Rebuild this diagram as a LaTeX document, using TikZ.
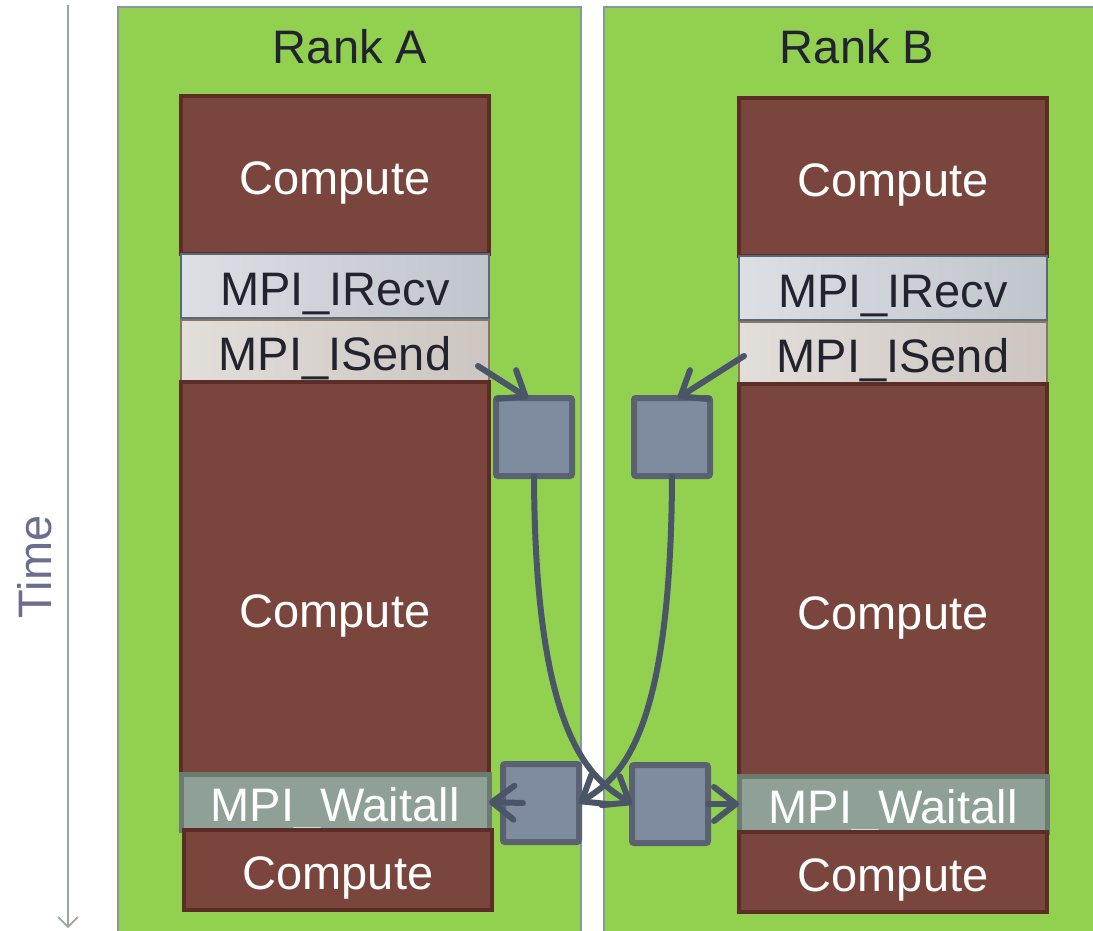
\documentclass[tikz,border=0pt]{standalone}
\usepackage{fontspec}
\setmainfont{Liberation Sans}
\usepackage{xcolor}
\definecolor{rank-green}{HTML}{92D050}
\definecolor{rank-edge}{HTML}{8895A8}
\definecolor{compute-brown}{HTML}{7A453C}
\definecolor{compute-edge}{HTML}{5C2C27}
\definecolor{recv-light}{HTML}{DCDFE4}
\definecolor{recv-dark}{HTML}{C0C5CC}
\definecolor{recv-edge}{HTML}{56687A}
\definecolor{send-light}{HTML}{E2DEDA}
\definecolor{send-dark}{HTML}{CCC5C0}
\definecolor{send-edge}{HTML}{8A7464}
\definecolor{wait-grey}{HTML}{8FA196}
\definecolor{wait-edge}{HTML}{6B7B70}
\definecolor{buf-fill}{HTML}{7F8C9F}
\definecolor{buf-edge}{HTML}{5A6272}
\definecolor{msg-dark}{HTML}{4A5568}
\definecolor{text-dark}{HTML}{23232F}
\definecolor{time-line}{HTML}{9AA8A0}
\definecolor{time-text}{HTML}{6B6E8C}
\usepackage{tikz}
\usetikzlibrary{positioning}
\usetikzlibrary{arrows.meta}
\tikzset{panel/.style = {draw=rank-edge, line width=1pt, fill=rank-green, minimum height=469pt, outer sep=0pt}}
\tikzset{title/.style = {text=text-dark, inner sep=0pt}}
\tikzset{block/.style = {minimum width=154pt, inner sep=0pt, outer sep=0pt, text height=19.8pt, text depth=0pt}}
\tikzset{compute/.style = {block, draw=compute-edge, line width=2pt, fill=compute-brown, text=white}}
\tikzset{irecv/.style = {block, draw=recv-edge, line width=1pt, left color=recv-light, right color=recv-dark, text=text-dark, minimum height=32pt}}
\tikzset{isend/.style = {block, draw=send-edge, line width=1pt, left color=send-light, right color=send-dark, text=text-dark, minimum height=31pt}}
\tikzset{waitall/.style = {block, draw=wait-edge, line width=2.5pt, fill=wait-grey, text=white, minimum height=28pt}}
\tikzset{buffer/.style = {draw=buf-edge, line width=3pt, fill=buf-fill, minimum width=38pt, minimum height=39pt, rounded corners=1pt, outer sep=0pt}}
\tikzset{msg/.style = {draw=msg-dark, line width=3pt, line cap=round, -{Straight Barb[round, length=11pt, width=17pt]}}}
\tikzset{timeline/.style = {draw=time-line, line width=0.8pt, -{Straight Barb[length=5pt, width=10pt]}}}

\begin{document}
\begin{tikzpicture}[x=0.5pt, y=-0.5pt,
  node distance = 0pt,
  font=\fontsize{23.5}{28}\selectfont
]
\useasboundingbox (0,0) rectangle (1093,931);

% the two ranks
\node[panel, minimum width=231.5pt] (pA) at (349.5,476) {};
\node[panel, minimum width=248pt] (pB) at (852,476) {};
\node[title] (tA) at (350,47) {Rank A};
\node[title] (tB) at (857,47) {Rank B};

% time axis
\coordinate (t0) at (68,5);
\coordinate (t1) at (68,928);
\draw[timeline] (t0) -- (t1);
\node[text=time-text, rotate=90] (tl) at (35,567) {Time};

% rank A
\node[compute, minimum height=79pt] (cA1) at (335,175) {Compute};
\node[irecv, below=of cA1] (rA) {MPI\_IRecv};
\node[isend, below=1pt of rA] (sA) {MPI\_ISend};
\node[compute, minimum height=196pt, text height=49.8pt, below=of sA] (cA2) {Compute};
\node[waitall, below=of cA2] (wA) {MPI\_Waitall};
\node[compute, minimum height=40pt, below=of wA, xshift=1.5pt] (cA3) {Compute};

% rank B
\node[compute, minimum height=79pt] (cB1) at (893,177) {Compute};
\node[irecv, below=of cB1] (rB) {MPI\_IRecv};
\node[isend, below=1pt of rB] (sB) {MPI\_ISend};
\node[compute, minimum height=196pt, text height=49.8pt, below=of sB] (cB2) {Compute};
\node[waitall, below=of cB2] (wB) {MPI\_Waitall};
\node[compute, minimum height=40pt, below=of wB] (cB3) {Compute};

% message buffers
\node[buffer] (bA1) at (534,437) {};
\node[buffer] (bB1) at (672,437) {};
\node[buffer] (bA2) at (541,803) {};
\node[buffer] (bB2) at (670,804) {};

\draw[msg] ([xshift=-5.5pt, yshift=-7.5pt]sA.east) -- ([xshift=-3pt]bA1.north);
\draw[msg] ([xshift=2.5pt, yshift=-1.5pt]sB.west) -- ([xshift=3pt]bB1.north);
\draw[msg] (bA1.south) .. controls +(1,264) and +(-40,-25) .. (bB2.west);
\draw[msg] (bB1.south) .. controls +(-1,264) and +(40,-25) .. (bA2.east);
\draw[msg] ([xshift=10pt]bA2.west) -- (wA.east);
\draw[msg] (bB2.east) -- (wB.west);

\end{tikzpicture}
\end{document}
